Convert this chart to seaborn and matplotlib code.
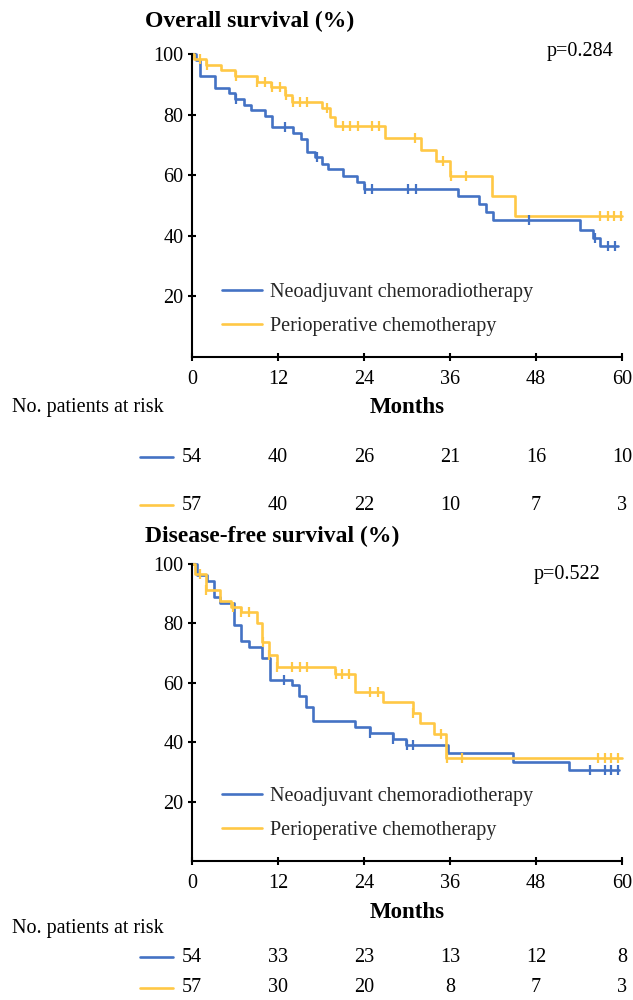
import matplotlib.pyplot as plt
import matplotlib.transforms as mtransforms
from matplotlib.lines import Line2D
import numpy as np
import pandas as pd
import seaborn as sns

sns.set_theme(style='white')
plt.rcParams['font.family'] = ['Liberation Serif', 'DejaVu Serif']

BLUE = '#4472C4'
GOLD = '#FFC845'

groups = ['Neoadjuvant chemoradiotherapy', 'Perioperative chemotherapy']
risk_times = [0, 12, 24, 36, 48, 60]

# Overall survival, step times (months) and survival (%)
os_neo_t = [0, 0.6, 1.1, 3.2, 5.2, 6.0, 7.2, 8.2, 10.2, 11.1, 14.1, 15.2, 16.1, 17.1, 18.1,
            19.0, 21.1, 23.0, 24.0, 37.1, 40.0, 41.0, 42.0, 54.1, 56.0, 56.9, 59.4]
os_neo_s = [100, 98.1, 92.6, 88.9, 87.0, 85.2, 83.3, 81.5, 79.6, 75.9, 73.9, 71.8, 67.8, 66.0, 63.8,
            62.0, 59.6, 57.9, 55.5, 53.0, 50.5, 47.8, 45.3, 42.0, 39.3, 36.5, 36.5]
os_neo_cens = [6.1, 13.0, 17.4, 24.2, 25.1, 30.1, 31.2, 47.0, 56.3, 58.1, 59.0]

os_peri_t = [0, 0.3, 2.0, 4.0, 6.0, 9.0, 11.0, 13.0, 14.0, 18.1, 19.2, 20.0, 26.9, 31.9,
             34.0, 36.0, 41.9, 45.1, 60]
os_peri_s = [100, 98.2, 96.4, 94.7, 92.9, 90.7, 89.0, 86.5, 84.3, 82.1, 79.1, 76.4, 72.4, 68.4,
             64.8, 59.6, 53.3, 46.4, 46.4]
os_peri_cens = [1.1, 2.1, 6.1, 9.1, 10.2, 11.1, 12.3, 13.1, 14.1, 15.1, 16.1, 18.8, 21.0, 22.0,
                23.1, 25.1, 26.1, 31.1, 35.0, 36.1, 38.2, 56.9, 58.0, 58.9, 59.9]

# Disease-free survival
dfs_neo_t = [0, 0.7, 2.1, 3.0, 3.9, 5.9, 6.9, 7.9, 9.8, 10.9, 13.9, 14.9, 15.9, 16.9, 22.8,
             24.8, 28.0, 29.8, 35.7, 44.8, 52.6, 59.6]
dfs_neo_s = [100, 96.3, 94.4, 88.9, 87.0, 79.6, 74.1, 72.2, 68.5, 61.1, 59.3, 55.6, 51.9, 47.2, 45.2,
             43.2, 41.0, 38.9, 36.3, 33.2, 30.6, 30.6]
dfs_neo_cens = [12.9, 24.9, 28.1, 30.0, 30.9, 55.6, 57.6, 58.5, 59.5]

dfs_peri_t = [0, 0.4, 1.9, 3.9, 5.5, 6.9, 9.0, 9.8, 10.7, 11.8, 20.0, 22.8, 26.7, 30.8, 31.8,
              33.7, 35.5, 60]
dfs_peri_s = [100, 96.5, 91.2, 87.7, 85.6, 83.9, 80.0, 73.8, 69.4, 65.4, 62.9, 56.8, 53.6, 49.7, 46.4,
              42.8, 34.6, 34.6]
dfs_peri_cens = [1.1, 2.0, 5.7, 6.9, 7.9, 9.9, 10.8, 11.9, 13.9, 15.0, 16.0, 20.1, 20.9, 21.9,
                 24.8, 25.9, 30.9, 34.8, 35.6, 37.7, 56.6, 57.6, 58.5, 59.5]

os_risk_neo = [54, 40, 26, 21, 16, 10]
os_risk_peri = [57, 40, 22, 10, 7, 3]
dfs_risk_neo = [54, 33, 23, 13, 12, 8]
dfs_risk_peri = [57, 30, 20, 8, 7, 3]

FS = 14.5
W, H = 633, 1000


def censor_values(t, s, cens):
    idx = np.searchsorted(t, cens, side='right') - 1
    return np.array(s)[idx]


def draw_panel(ax, curves, p_text, p_xy, legend_y):
    for (t, s, cens), color, label in zip(curves, [BLUE, GOLD], groups):
        df = pd.DataFrame({'Months': t, 'Survival': s})
        sns.lineplot(data=df, x='Months', y='Survival', ax=ax, color=color, lw=1.9,
                     drawstyle='steps-post', estimator=None, sort=False, label=label,
                     clip_on=False)
        cdf = pd.DataFrame({'Months': cens, 'Survival': censor_values(t, s, cens)})
        sns.scatterplot(data=cdf, x='Months', y='Survival', ax=ax, color=color,
                        marker='|', s=45, linewidth=1.6, clip_on=False, zorder=3)

    ax.set_xlim(0, 60)
    ax.set_ylim(0, 100)
    ax.set_xticks(risk_times)
    ax.set_yticks([20, 40, 60, 80, 100])
    ax.set_xlabel('')
    ax.set_ylabel('')
    sns.despine(ax=ax)
    for sp in ['left', 'bottom']:
        ax.spines[sp].set_color('black')
        ax.spines[sp].set_linewidth(1.5)
    ax.tick_params(axis='both', direction='inout', length=6, width=1.5, color='black',
                   labelsize=FS, labelcolor='black', left=True, bottom=True)
    ax.tick_params(axis='x', pad=6)
    ax.tick_params(axis='y', pad=3)
    ax.text(p_xy[0], p_xy[1], p_text, transform=ax.transAxes, ha='right', va='center',
            fontsize=FS, color='black')
    ax.legend(loc='center left', bbox_to_anchor=(0.07, legend_y), frameon=False, fontsize=FS,
              handlelength=2.0, handletextpad=0.4, labelspacing=0.75, borderpad=0,
              borderaxespad=0)


def draw_risk(fig, ax, risk_rows, y_months, y_label, y_rows):
    tr = mtransforms.blended_transform_factory(ax.transData, fig.transFigure)
    tra = mtransforms.blended_transform_factory(ax.transAxes, fig.transFigure)
    ax.text(0.5, 1 - y_months / H, 'Months', transform=tra, ha='center', va='center',
            fontsize=16.5, fontweight='bold', color='black')
    fig.text(12 / W, 1 - y_label / H, 'No. patients at risk', ha='left', va='center',
             fontsize=FS, color='black')
    for row, color, yy in zip(risk_rows, [BLUE, GOLD], y_rows):
        yf = 1 - yy / H
        fig.add_artist(Line2D([140 / W, 173 / W], [yf, yf], color=color, lw=1.9))
        for x, n in zip(risk_times, row):
            ax.text(x, yf, str(n), transform=tr, ha='center', va='center', fontsize=FS,
                    color='black')


fig = plt.figure(figsize=(W / 100, H / 100), dpi=100)
ax1 = fig.add_axes([192 / W, 1 - 357 / H, 430 / W, 303 / H])
ax2 = fig.add_axes([192 / W, 1 - 861 / H, 430 / W, 297 / H])

draw_panel(ax1, [(os_neo_t, os_neo_s, os_neo_cens), (os_peri_t, os_peri_s, os_peri_cens)],
           'p=0.284', (0.979, 1.007), 0.157)
draw_panel(ax2, [(dfs_neo_t, dfs_neo_s, dfs_neo_cens), (dfs_peri_t, dfs_peri_s, dfs_peri_cens)],
           'p=0.522', (0.949, 0.966), 0.16)

fig.text(145 / W, 1 - 21 / H, 'Overall survival (%)', ha='left', va='center', fontsize=17,
         fontweight='bold', color='black')
fig.text(145 / W, 1 - 536 / H, 'Disease-free survival (%)', ha='left', va='center',
         fontsize=17, fontweight='bold', color='black')

draw_risk(fig, ax1, [os_risk_neo, os_risk_peri], 408, 408, [457, 505])
draw_risk(fig, ax2, [dfs_risk_neo, dfs_risk_peri], 913, 928, [957, 988])

fig.savefig('out.png', dpi=100)
